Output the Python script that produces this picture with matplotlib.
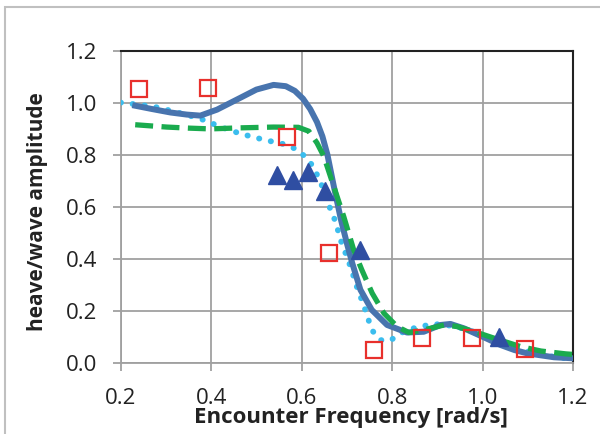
import matplotlib
matplotlib.use("Agg")
import matplotlib.pyplot as plt
from matplotlib.patches import Rectangle

plt.rcParams['font.family'] = ['Open Sans', 'DejaVu Sans']

sq_x = [0.24, 0.394, 0.568, 0.661, 0.761, 0.867, 0.977, 1.093]
sq_y = [1.053, 1.057, 0.868, 0.424, 0.05, 0.097, 0.097, 0.053]

tri_x = [0.545, 0.581, 0.613, 0.651, 0.728, 1.036]
tri_y = [0.723, 0.704, 0.733, 0.662, 0.435, 0.101]

solid_x = [0.232, 0.27, 0.31, 0.346, 0.376, 0.413, 0.464, 0.50, 0.538, 0.565, 0.585, 0.603, 0.619, 0.634, 0.646, 0.657, 0.671, 0.687, 0.70, 0.712, 0.73, 0.755, 0.789, 0.833, 0.87, 0.907, 0.929, 0.959, 1.0, 1.04, 1.07, 1.099, 1.158, 1.2]
solid_y = [0.988, 0.975, 0.962, 0.954, 0.95, 0.973, 1.018, 1.05, 1.068, 1.063, 1.045, 1.015, 0.975, 0.925, 0.87, 0.80, 0.68, 0.55, 0.46, 0.383, 0.281, 0.204, 0.146, 0.117, 0.12, 0.146, 0.15, 0.133, 0.101, 0.069, 0.05, 0.037, 0.022, 0.018]

dot_x = [0.2, 0.22, 0.272, 0.32, 0.368, 0.393, 0.416, 0.466, 0.515, 0.567, 0.59, 0.608, 0.626, 0.64, 0.649, 0.664, 0.675, 0.686, 0.697, 0.708, 0.722, 0.737, 0.748, 0.755, 0.774, 0.796, 0.818, 0.84, 0.863, 0.892, 0.937, 0.981, 1.025, 1.077, 1.129, 1.184]
dot_y = [1.0, 0.996, 0.985, 0.965, 0.942, 0.928, 0.909, 0.88, 0.858, 0.838, 0.819, 0.792, 0.754, 0.70, 0.665, 0.588, 0.543, 0.473, 0.422, 0.37, 0.293, 0.223, 0.165, 0.127, 0.088, 0.086, 0.114, 0.13, 0.14, 0.15, 0.142, 0.12, 0.088, 0.056, 0.031, 0.018]

dash_x = [0.232, 0.302, 0.35, 0.398, 0.464, 0.538, 0.593, 0.616, 0.634, 0.649, 0.671, 0.693, 0.715, 0.733, 0.756, 0.782, 0.811, 0.837, 0.87, 0.915, 0.944, 0.988, 1.033, 1.084, 1.129, 1.184, 1.2]
dash_y = [0.915, 0.906, 0.902, 0.899, 0.903, 0.906, 0.905, 0.89, 0.845, 0.794, 0.678, 0.563, 0.435, 0.358, 0.268, 0.191, 0.14, 0.117, 0.127, 0.146, 0.14, 0.117, 0.091, 0.063, 0.046, 0.035, 0.033]

xticks = [0.2, 0.4, 0.6, 0.8, 1.0, 1.2]
yticks = [0.0, 0.2, 0.4, 0.6, 0.8, 1.0, 1.2]

fig = plt.figure(figsize=(6.0, 4.34), dpi=100)
ax = fig.add_axes([0.2012, 0.1636, 0.7538, 0.7200])

ax.grid(True, color='#a0a0a0', linewidth=1.3)
ax.set_axisbelow(True)

ax.plot(dot_x, dot_y, linestyle=(0, (0.05, 2.0)), dash_capstyle='round', color='#3bbdee', linewidth=4.2, zorder=3)
ax.plot(solid_x, solid_y, '-', color='#4874ae', linewidth=4.3, zorder=4, solid_joinstyle='round')
ax.plot(dash_x, dash_y, linestyle=(0, (3.4, 1.6)), color='#1aab4e', linewidth=3.8, zorder=5)
ax.plot(sq_x, sq_y, 's', markersize=12, markerfacecolor='none', markeredgecolor='#e8302c', markeredgewidth=1.6, zorder=6)
ax.plot(tri_x, tri_y, '^', markersize=13, color='#2f4ea2', zorder=6)

ax.set_xlim(0.2, 1.2)
ax.set_ylim(0.0, 1.2)
ax.set_xticks(xticks)
ax.set_yticks(yticks)
ax.set_xticklabels([f'{v:.1f}' for v in xticks])
ax.set_yticklabels([f'{v:.1f}' for v in yticks])
ax.tick_params(axis='both', labelsize=16, color='#a0a0a0', length=6, width=1.3, labelcolor='#222222')
ax.tick_params(axis='x', pad=12)
ax.tick_params(axis='y', pad=11)

for s in ['left', 'bottom']:
    ax.spines[s].set_color('#a0a0a0')
    ax.spines[s].set_linewidth(1.3)
for s in ['top', 'right']:
    ax.spines[s].set_color('#222222')
    ax.spines[s].set_linewidth(1.5)

ax.set_xlabel('Encounter Frequency [rad/s]', fontsize=16, fontweight='bold', color='#222222')
ax.xaxis.set_label_coords(0.5095, -0.142)
ax.set_ylabel('heave/wave amplitude', fontsize=15, fontweight='bold', color='#222222')
ax.yaxis.set_label_coords(-0.160, 0.484)

fig.patches.append(Rectangle((0.008, -0.01), 1.1, 0.995, transform=fig.transFigure, fill=False, edgecolor='#c0c0c0', linewidth=1.5))

fig.savefig('out.png', dpi=100)
